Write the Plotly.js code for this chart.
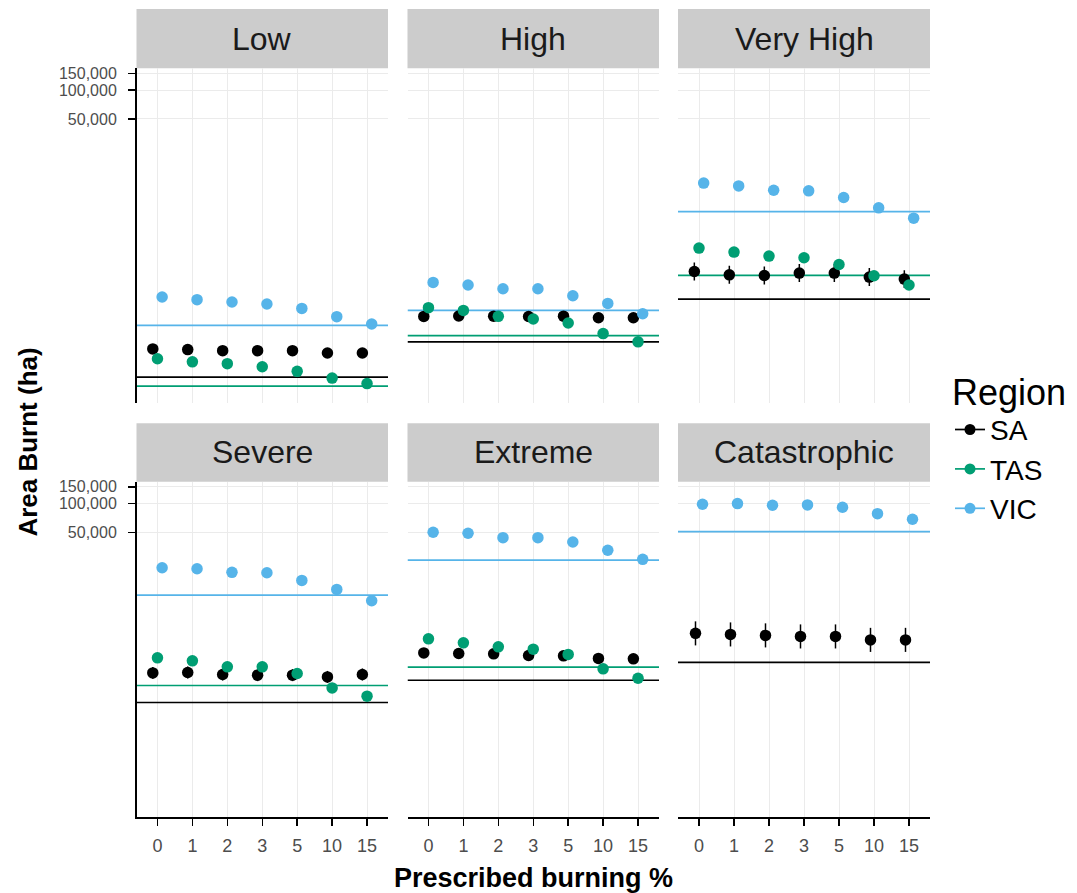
<!DOCTYPE html>
<html>
<head>
<meta charset="utf-8">
<script src="https://cdn.plot.ly/plotly-3.0.1.min.js"></script>
<style>
  html, body { margin: 0; padding: 0; background: #fff; }
  #chart { width: 1077px; height: 893px; }
</style>
</head>
<body>
<div id="chart"></div>
<script>
// ---------------- DATA ----------------
const categories = ['0', '1', '2', '3', '5', '10', '15'];   // Prescribed burning %
const panels = ['Low', 'High', 'Very High', 'Severe', 'Extreme', 'Catastrophic'];
const regions = ['SA', 'TAS', 'VIC'];

// Area burnt (ha), one value per prescribed-burning level
const SA_Low   = [194, 191, 186, 186, 186, 176, 176];
const TAS_Low  = [153, 142, 136, 126, 113, 96, 84];
const VIC_Low  = [679, 637, 603, 574, 516, 423, 354];

const SA_High  = [425, 430, 428, 424, 428, 412, 412];
const TAS_High = [525, 492, 426, 400, 363, 281, 230];
const VIC_High = [966, 908, 830, 830, 701, 582, 454];

const SA_VeryHigh  = [1259, 1161, 1143, 1211, 1211, 1099, 1047];
const TAS_VeryHigh = [2213, 2009, 1824, 1754, 1489, 1135, 908];
const VIC_VeryHigh = [10620, 9930, 8950, 8810, 7500, 5850, 4560];

const SA_Severe  = [1702, 1718, 1637, 1611, 1611, 1545, 1637];
const TAS_Severe = [2443, 2275, 1968, 1968, 1679, 1186, 971];
const VIC_Severe = [21380, 20890, 19140, 18970, 15780, 12700, 9660];

const SA_Extreme  = [2754, 2716, 2692, 2588, 2564, 2410, 2388];
const TAS_Extreme = [3864, 3508, 3184, 3013, 2655, 1875, 1496];
const VIC_Extreme = [50230, 49100, 44150, 44150, 39810, 32580, 26180];

const SA_Catastrophic  = [4406, 4295, 4198, 4093, 4093, 3767, 3767];
const VIC_Catastrophic = [98620, 100200, 96380, 97050, 91830, 78700, 68710];

// SA interval bounds (ha) where visible
const SA_VeryHigh_lo = [1014, 935, 920, 975, 975, 885, 843];
const SA_VeryHigh_hi = [1564, 1442, 1420, 1504, 1504, 1365, 1300];
const SA_Severe_lo = [1474, 1487, 1417, 1395, 1395, 1338, 1417];
const SA_Severe_hi = [1966, 1984, 1891, 1861, 1861, 1784, 1891];
const SA_Extreme_lo = [2441, 2408, 2387, 2294, 2273, 2137, 2117];
const SA_Extreme_hi = [3107, 3064, 3037, 2919, 2892, 2718, 2694];
const SA_Catastrophic_lo = [3298, 3215, 3142, 3064, 3064, 2820, 2820];
const SA_Catastrophic_hi = [5886, 5738, 5609, 5468, 5468, 5033, 5033];

// Reference (horizontal) lines per panel, in panel order
const hline_SA  = [98, 230, 647, 834, 1426, 2188];
const hline_TAS = [79, 267, 1143, 1256, 1954, null];
const hline_VIC = [343, 492, 5350, 11090, 25760, 50930];

const yTickVals = [50000, 100000, 150000];
const yTickText = ['50,000', '100,000', '150,000'];

// ---------------- ASSEMBLY ----------------
const colors = { SA: '#000000', TAS: '#009E73', VIC: '#56B4E9' };
const panelData = {
  'Low':          { SA: SA_Low, TAS: TAS_Low, VIC: VIC_Low },
  'High':         { SA: SA_High, TAS: TAS_High, VIC: VIC_High },
  'Very High':    { SA: SA_VeryHigh, TAS: TAS_VeryHigh, VIC: VIC_VeryHigh },
  'Severe':       { SA: SA_Severe, TAS: TAS_Severe, VIC: VIC_Severe },
  'Extreme':      { SA: SA_Extreme, TAS: TAS_Extreme, VIC: VIC_Extreme },
  'Catastrophic': { SA: SA_Catastrophic, VIC: VIC_Catastrophic }
};
const panelErr = {
  'Very High':    { lo: SA_VeryHigh_lo, hi: SA_VeryHigh_hi },
  'Severe':       { lo: SA_Severe_lo, hi: SA_Severe_hi },
  'Extreme':      { lo: SA_Extreme_lo, hi: SA_Extreme_hi },
  'Catastrophic': { lo: SA_Catastrophic_lo, hi: SA_Catastrophic_hi }
};
const hlines = { SA: hline_SA, TAS: hline_TAS, VIC: hline_VIC };

const W = 1077, H = 893;
const colX = [[136.5, 388], [407.5, 659], [678, 930]];
const rowY = [[68.3, 402.7], [481.7, 817]];
const stripY = [[9, 68.3], [423.3, 481.7]];
const FONT = 'Liberation Sans, Arial, sans-serif';
const dodgeW = 0.4;
const xRange = [-0.6, categories.length - 0.4];

const lineTraces = [];
const pointTraces = [];
const shapes = [];
const annotations = [];
const layout = {
  width: W, height: H,
  margin: { l: 0, r: 0, t: 0, b: 0 },
  paper_bgcolor: '#ffffff',
  plot_bgcolor: '#ffffff',
  font: { family: FONT, color: '#000' },
  showlegend: true,
  legend: {
    x: 950 / W, y: 1 - 358 / H, xanchor: 'left', yanchor: 'top',
    font: { size: 28, color: '#000', family: FONT },
    title: { text: 'Region', font: { size: 36, color: '#000', family: FONT } },
    bgcolor: 'rgba(0,0,0,0)', itemwidth: 30, tracegroupgap: 0
  }
};

panels.forEach((p, i) => {
  const r = Math.floor(i / 3), c = i % 3;
  const s = i === 0 ? '' : String(i + 1);
  layout['xaxis' + s] = {
    domain: [colX[c][0] / W, colX[c][1] / W],
    anchor: 'y' + s,
    range: xRange,
    tickvals: categories.map((_, k) => k),
    ticktext: categories,
    showgrid: true, gridcolor: '#EBEBEB', gridwidth: 1,
    zeroline: false,
    showline: r === 1, linecolor: '#000', linewidth: 1.5, mirror: false,
    ticks: r === 1 ? 'outside' : '', ticklen: 7, tickwidth: 1.5, tickcolor: '#000',
    showticklabels: r === 1, ticklabelstandoff: 5,
    tickfont: { size: 18, color: '#4D4D4D', family: FONT },
    fixedrange: true
  };
  layout['yaxis' + s] = {
    domain: [1 - rowY[r][1] / H, 1 - rowY[r][0] / H],
    anchor: 'x' + s,
    type: 'log',
    range: [1.724, 5.230],
    tickvals: yTickVals, ticktext: yTickText,
    showgrid: true, gridcolor: '#EBEBEB', gridwidth: 1,
    zeroline: false,
    showline: c === 0, linecolor: '#000', linewidth: 1.5,
    ticks: c === 0 ? 'outside' : '', ticklen: 7, tickwidth: 1.5, tickcolor: '#000',
    showticklabels: c === 0, ticklabelstandoff: 8,
    tickfont: { size: 16, color: '#4D4D4D', family: FONT },
    fixedrange: true
  };

  // strip
  shapes.push({
    type: 'rect', xref: 'paper', yref: 'paper',
    x0: colX[c][0] / W, x1: colX[c][1] / W,
    y0: 1 - stripY[r][1] / H, y1: 1 - stripY[r][0] / H,
    fillcolor: '#CCCCCC', line: { width: 0 }, layer: 'below'
  });
  annotations.push({
    xref: 'paper', yref: 'paper',
    x: (colX[c][0] + colX[c][1]) / 2 / W,
    y: 1 - (stripY[r][0] + stripY[r][1]) / 2 / H,
    text: p, showarrow: false, xanchor: 'center', yanchor: 'middle',
    font: { size: 32, color: '#1A1A1A', family: FONT }
  });

  // reference lines (span the full panel width)
  regions.forEach(reg => {
    const v = hlines[reg][i];
    if (v == null) return;
    lineTraces.push({
      type: 'scatter', mode: 'lines',
      x: xRange, y: [v, v],
      xaxis: 'x' + s, yaxis: 'y' + s,
      line: { color: colors[reg], width: 1.7 },
      showlegend: false, hoverinfo: 'skip', cliponaxis: true
    });
  });

  // points
  const present = regions.filter(reg => panelData[p][reg]);
  const n = present.length;
  present.forEach((reg, g) => {
    const vals = panelData[p][reg];
    const off = -dodgeW / 2 + dodgeW / (2 * n) + g * dodgeW / n;
    const tr = {
      type: 'scatter', mode: 'markers',
      x: categories.map((_, k) => k + off),
      y: vals,
      xaxis: 'x' + s, yaxis: 'y' + s,
      marker: { color: colors[reg], size: 11.5, line: { width: 0 } },
      showlegend: false, hoverinfo: 'skip', cliponaxis: false
    };
    if (reg === 'SA' && panelErr[p]) {
      const e = panelErr[p];
      tr.error_y = {
        type: 'data', symmetric: false,
        array: vals.map((v, k) => e.hi[k] - v),
        arrayminus: vals.map((v, k) => v - e.lo[k]),
        color: '#000', thickness: 1.5, width: 0
      };
    }
    pointTraces.push(tr);
  });
});

// legend entries
const legendTraces = regions.map(reg => ({
  type: 'scatter', mode: 'lines+markers', name: reg,
  x: [null], y: [null], xaxis: 'x', yaxis: 'y',
  line: { color: colors[reg], width: 1.7 },
  marker: { color: colors[reg], size: 11 },
  showlegend: true, hoverinfo: 'skip'
}));

// axis titles
annotations.push({
  xref: 'paper', yref: 'paper', x: 533 / W, y: 1 - 878 / H,
  text: 'Prescribed burning %', showarrow: false,
  xanchor: 'center', yanchor: 'middle',
  font: { size: 27, color: '#000', family: FONT, weight: 'bold' }
});
annotations.push({
  xref: 'paper', yref: 'paper', x: 28 / W, y: 1 - 442.6 / H,
  text: 'Area Burnt (ha)', showarrow: false, textangle: -90,
  xanchor: 'center', yanchor: 'middle',
  font: { size: 26, color: '#000', family: FONT, weight: 'bold' }
});

layout.shapes = shapes;
layout.annotations = annotations;

Plotly.newPlot('chart', lineTraces.concat(pointTraces, legendTraces), layout,
  { staticPlot: true, displayModeBar: false });
</script>
</body>
</html>
